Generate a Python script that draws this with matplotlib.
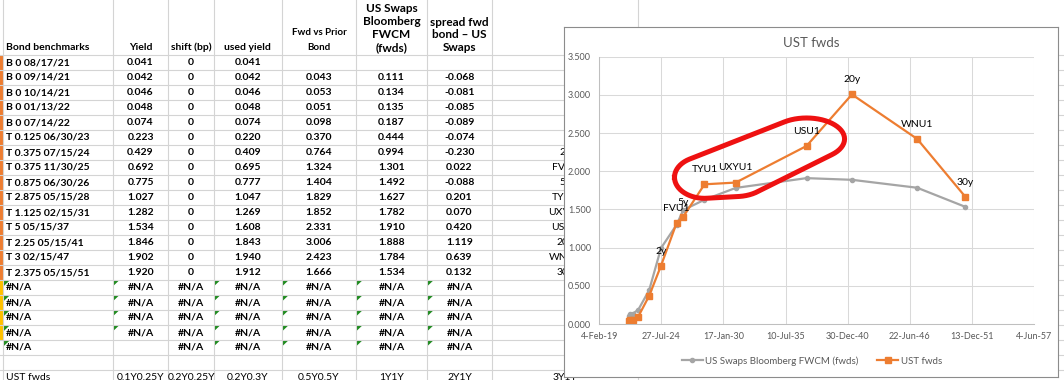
import datetime as dt
import numpy as np
import matplotlib
matplotlib.use("Agg")
import matplotlib.pyplot as plt
import matplotlib.dates as mdates
from matplotlib.lines import Line2D
from matplotlib.patches import Polygon, Rectangle
from matplotlib.transforms import IdentityTransform, Bbox, TransformedBbox

plt.rcParams['font.family'] = ['Lato', 'DejaVu Sans']

# ---- spreadsheet data ----
bonds = ["B 0 08/17/21", "B 0 09/14/21", "B 0 10/14/21", "B 0 01/13/22", "B 0 07/14/22",
         "T 0.125 06/30/23", "T 0.375 07/15/24", "T 0.375 11/30/25", "T 0.875 06/30/26",
         "T 2.875 05/15/28", "T 1.125 02/15/31", "T 5 05/15/37", "T 2.25 05/15/41",
         "T 3 02/15/47", "T 2.375 05/15/51"]
yields = [0.041, 0.042, 0.046, 0.048, 0.074, 0.223, 0.429, 0.692, 0.775, 1.027,
          1.282, 1.534, 1.846, 1.902, 1.920]
shift_bp = [0, 0, 0, 0, 0, 0, 0, 0, 0, 0, 0, 0, 0, 0, 0]
used_yield = [0.041, 0.042, 0.046, 0.048, 0.074, 0.220, 0.409, 0.695, 0.777, 1.047,
              1.269, 1.608, 1.843, 1.940, 1.912]
fwd_prior = [None, 0.043, 0.053, 0.051, 0.098, 0.370, 0.764, 1.324, 1.404, 1.829,
             1.852, 2.331, 3.006, 2.423, 1.666]
swaps_fwd = [None, 0.111, 0.134, 0.135, 0.187, 0.444, 0.994, 1.301, 1.492, 1.627,
             1.782, 1.910, 1.888, 1.784, 1.534]
spread = [None, -0.068, -0.081, -0.085, -0.089, -0.074, -0.230, 0.022, -0.088, 0.201,
          0.070, 0.420, 1.119, 0.639, 0.132]
point_labels = ["", "", "", "", "", "", "2y", "FVU1", "5y", "TYU1", "UXYU1", "USU1",
                "20y", "WNU1", "30y"]
circled = ["TYU1", "UXYU1", "USU1"]

headers = [["Bond benchmarks"], ["Yield"], ["shift (bp)"], ["used yield"],
           ["Fwd vs Prior", "Bond"], ["US Swaps", "Bloomberg", "FWCM", "(fwds)"],
           ["spread fwd", "bond \u2013 US", "Swaps"]]
bottom_row = ["UST fwds", "0.1Y0.25Y", "0.2Y0.25Y", "0.2Y0.3Y", "0.5Y0.5Y", "1Y1Y",
              "2Y1Y", "3Y1Y"]

# ---- figure / sheet background (pixel coords) ----
W, H = 1064, 380
fig = plt.figure(figsize=(W / 100, H / 100), dpi=100)
bg = fig.add_axes([0, 0, 1, 1])
bg.set_xlim(0, W)
bg.set_ylim(H, 0)
bg.axis('off')

grid_c = '#d4d4d4'
col_edges = [3.3, 112.7, 168.3, 213.7, 282, 356, 427, 492, 637.7]
row_top = 55
row_h = 15
for k in range(22):
    bg.plot([0, W], [row_top + k * row_h] * 2, color=grid_c, lw=0.8)
for xe in col_edges:
    bg.plot([xe, xe], [0, H], color=grid_c, lw=0.8)

centers = [6] + [(col_edges[i] + col_edges[i + 1]) / 2 for i in range(1, 8)]
chart_left = 564
# part of the label column not hidden by the chart
visible = TransformedBbox(Bbox.from_extents(col_edges[7], 0, chart_left, H), bg.transData)

def cell(text, col, row_y, weight='bold'):
    ha = 'left' if col == 0 else 'center'
    return bg.text(centers[col], row_y, text, ha=ha, va='center', fontsize=7.5,
                   fontweight=weight, color='black')

# header
head_size = [7.5, 7.5, 7.5, 7.5, 7, 8.5, 8.5]
head_step = [0, 0, 0, 0, 15, 13, 12.5]
for j, lines in enumerate(headers):
    n = len(lines)
    for i, line in enumerate(lines):
        y = 47.5 - (n - 1 - i) * head_step[j]
        ha = 'left' if j == 0 else 'center'
        bg.text(centers[j], y, line, ha=ha, va='center', fontsize=head_size[j],
                fontweight='bold', color='black')

# body
fmt = lambda v: "" if v is None else f"{v:.3f}"
for r, name in enumerate(bonds):
    y = row_top + r * row_h + row_h / 2
    cell(name, 0, y)
    cell(fmt(yields[r]), 1, y)
    cell(str(shift_bp[r]), 2, y)
    cell(fmt(used_yield[r]), 3, y)
    cell(fmt(fwd_prior[r]), 4, y)
    cell(fmt(swaps_fwd[r]), 5, y)
    cell(fmt(spread[r]), 6, y)
    if point_labels[r]:
        txt = cell(point_labels[r], 7, y, weight='normal')
        txt.set_clip_box(visible)
        txt.set_clip_on(True)

# #N/A rows
for i in range(5):
    r = len(bonds) + i
    y0 = row_top + r * row_h
    for c in range(7):
        if i == 4 and c == 1:
            continue
        cell("#N/A", c, y0 + row_h / 2)
        if c != 2:
            x0 = col_edges[c]
            bg.add_patch(Polygon([[x0 + 0.5, y0 + 0.8], [x0 + 6, y0 + 0.8], [x0 + 0.5, y0 + 6]],
                                 closed=True, color='#1e8a1e', lw=0))

# last row (mostly cut off)
for c, t in enumerate(bottom_row):
    bg.text(centers[c], 377, t, ha='left' if c == 0 else 'center', va='center',
            fontsize=7.5, color='black')

bg.add_patch(Rectangle((0, row_top), 3.3, 15 * row_h, color='#ed7d31', lw=0))
bg.add_patch(Rectangle((0, row_top + 15 * row_h), 3.3, 4 * row_h, color='#ffc000', lw=0))

# ---- chart ----
def fig_rect(x0, y0, x1, y1):
    return [x0 / W, 1 - y1 / H, (x1 - x0) / W, (y1 - y0) / H]

frame = fig.add_axes(fig_rect(chart_left, 27, 1058, 377))
frame.set_xticks([])
frame.set_yticks([])
for s in frame.spines.values():
    s.set_color('#8c8c8c')
    s.set_linewidth(0.8)

ax = fig.add_axes(fig_rect(599.3, 56.7, 1034, 324))
dates = [dt.datetime.strptime(b.split()[-1], "%m/%d/%y") for b in bonds]
xs = mdates.date2num(dates)

start = mdates.date2num(dt.datetime(2019, 2, 4))
xticks = start + 2000 * np.arange(8)
ax.set_xlim(xticks[0], xticks[-1])
ax.set_xticks(xticks)
ax.xaxis.set_major_formatter(lambda v, pos: (lambda d: f"{d.day}-{d.strftime('%b-%y')}")(mdates.num2date(v)))
ax.set_ylim(0, 3.5)
ax.set_yticks(np.arange(0, 3.51, 0.5))
ax.yaxis.set_major_formatter(lambda v, pos: f"{v:.3f}")
ax.grid(color='#d9d9d9', lw=0.75)
ax.set_axisbelow(True)
ax.tick_params(length=0, labelsize=6.5, labelcolor='#595959', pad=6)
for side in ['top', 'right']:
    ax.spines[side].set_visible(False)
for side in ['left', 'bottom']:
    ax.spines[side].set_color('#bfbfbf')
    ax.spines[side].set_linewidth(0.75)

ax.plot(xs[1:], swaps_fwd[1:], color='#a5a5a5', lw=1.6, marker='o', ms=3,
        label='US Swaps Bloomberg FWCM (fwds)')
ax.plot(xs[1:], fwd_prior[1:], color='#ed7d31', lw=1.6, marker='s', ms=3.8,
        label='UST fwds')
for x, y, lbl in zip(xs[1:], fwd_prior[1:], point_labels[1:]):
    if lbl:
        ax.annotate(lbl, (x, y), xytext=(0, 10.5), textcoords='offset points',
                    ha='center', va='center', fontsize=7.5, color='black')

fig.text(811 / W, 1 - 43 / H, "UST fwds", ha='center', va='center', fontsize=9.5,
         color='#595959')
fig.legend(loc='center', bbox_to_anchor=(812 / W, 1 - 361 / H), ncol=2, frameon=False,
           fontsize=7, labelcolor='#595959', handlelength=2.1, handletextpad=0.3,
           columnspacing=1.9)

# hand-drawn red loop around the circled points
sel = [i for i, l in enumerate(point_labels) if l in circled]
sel_y = [fwd_prior[i] for i in sel]
pix = ax.transData.transform(np.column_stack([xs[sel], sel_y]))
t = np.linspace(0, 2 * np.pi, 60, endpoint=False)
rx = np.linspace(30, 38, len(pix))
cloud = np.vstack([p + np.column_stack([a * np.cos(t), 7 + 21 * np.sin(t)])
                   for p, a in zip(pix, rx)])

def hull(points):
    pts = sorted(map(tuple, points))
    def cross(o, a, b):
        return (a[0] - o[0]) * (b[1] - o[1]) - (a[1] - o[1]) * (b[0] - o[0])
    lower, upper = [], []
    for q in pts:
        while len(lower) >= 2 and cross(lower[-2], lower[-1], q) <= 0:
            lower.pop()
        lower.append(q)
    for q in reversed(pts):
        while len(upper) >= 2 and cross(upper[-2], upper[-1], q) <= 0:
            upper.pop()
        upper.append(q)
    return np.array(lower[:-1] + upper[:-1])

loop = hull(cloud)
loop = np.vstack([loop, loop[:1]])
fig.add_artist(Line2D(loop[:, 0], loop[:, 1], transform=IdentityTransform(),
                      color='#ee1111', lw=3.6, solid_joinstyle='round'))

fig.savefig('out.png', dpi=100)
